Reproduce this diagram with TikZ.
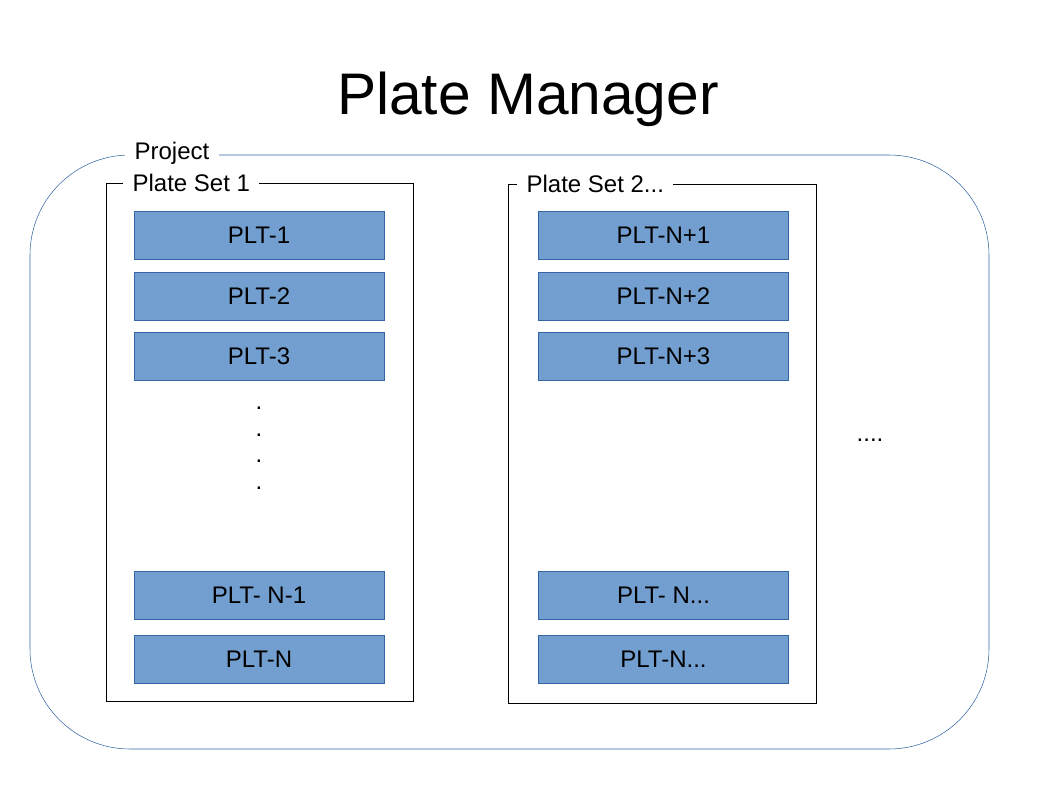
\documentclass[tikz,border=0pt]{standalone}
\usepackage{fontspec}
\setmainfont{Liberation Sans}
\usetikzlibrary{positioning}
\definecolor{plateblue}{HTML}{729FCF}
\definecolor{lineblue}{HTML}{3465A4}
\tikzset{
  plate/.style={draw=lineblue, fill=plateblue, minimum width=187.5pt, minimum height=36pt, font=\fontsize{18}{21}\selectfont},
  setlabel/.style={fill=white, anchor=west, inner xsep=7pt, inner ysep=1pt, font=\fontsize{18}{21}\selectfont},
}
\begin{document}
\begin{tikzpicture}[x=0.75pt, y=-0.75pt]
  \useasboundingbox (0,0) rectangle (1058,794);
  \node (title) at (528,99) {\fontsize{44}{52}\selectfont Plate Manager};

  % project frame
  \draw [lineblue, rounded corners=75pt] (30,155) rectangle (989,749);
  \node [setlabel] (project) at (125,153) {Project};

  % plate sets
  \draw (106,183) rectangle (413,701);
  \node [setlabel] (set1) at (123,183) {Plate Set 1};
  \draw (508,184) rectangle (816,703);
  \node [setlabel] (set2) at (517,184) {Plate Set 2...};

  \node [plate] (p1) at (259,235) {PLT-1};
  \node [plate] (p2) at (259,296) {PLT-2};
  \node [plate] (p3) at (259,356) {PLT-3};
  \node [plate] (pn1) at (259,595) {PLT- N-1};
  \node [plate] (pn) at (259,659) {PLT-N};

  \node [plate] (q1) at (663.5,235) {PLT-N+1};
  \node [plate] (q2) at (663.5,296) {PLT-N+2};
  \node [plate] (q3) at (663.5,356) {PLT-N+3};
  \node [plate] (qn1) at (663.5,595) {PLT- N...};
  \node [plate] (qn) at (663.5,659) {PLT-N...};

  \foreach \y [count=\i] in {407,434,460,487}
    \node [anchor=base, inner sep=0pt, font=\fontsize{18}{21}\selectfont] (dot\i) at (259,\y+2) {.};
  \node [anchor=base, inner sep=0pt, font=\fontsize{18}{21}\selectfont] (more) at (870,441) {....};
\end{tikzpicture}
\end{document}
